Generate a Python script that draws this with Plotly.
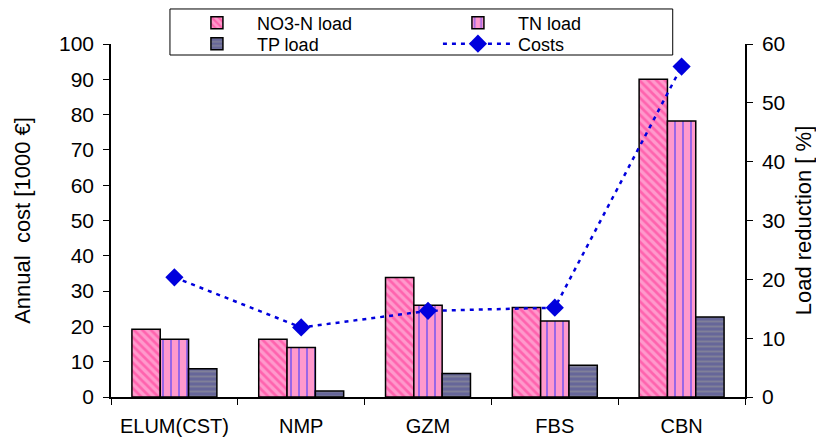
# load reduction bars and annual cost line, two y axes

import plotly.graph_objects as go

categories = ["ELUM(CST)", "NMP", "GZM", "FBS", "CBN"]

# load reduction [%]
no3_load = [11.5, 9.8, 20.3, 15.2, 54.0]
tn_load = [9.8, 8.4, 15.6, 12.9, 46.9]
tp_load = [4.8, 1.0, 4.0, 5.4, 13.6]

# annual cost [1000 EUR]
costs = [33.9, 19.7, 24.4, 25.3, 93.6]

left_ticks = list(range(0, 101, 10))
right_ticks = list(range(0, 61, 10))

font_name = "Liberation Sans, Arial, sans-serif"

fig = go.Figure()

fig.add_trace(go.Bar(
    x=categories, y=no3_load, name="NO3-N load", yaxis="y", legend="legend",
    marker=dict(color="#FF99CC", line=dict(color="black", width=1.5),
                pattern=dict(shape="\\", fgcolor="#FF2D8F", bgcolor="#FF99CC",
                             size=6, solidity=0.45)),
))
fig.add_trace(go.Bar(
    x=categories, y=tn_load, name="TN load", yaxis="y", legend="legend",
    marker=dict(color="#FF99CC", line=dict(color="black", width=1.5),
                pattern=dict(shape="|", fgcolor="#3333FF", bgcolor="#FF99CC",
                             size=8, solidity=0.25)),
))
fig.add_trace(go.Bar(
    x=categories, y=tp_load, name="TP load", yaxis="y", legend="legend2",
    marker=dict(color="#666699", line=dict(color="black", width=1.5),
                pattern=dict(shape="-", fgcolor="#999999", bgcolor="#666699",
                             size=5, solidity=0.4)),
))
fig.add_trace(go.Scatter(
    x=categories, y=costs, name="Costs", yaxis="y2", legend="legend2",
    mode="lines+markers",
    line=dict(color="#0000DD", width=2.5, dash="4px,5px"),
    marker=dict(symbol="diamond", size=14, color="#0000DD"),
))

legend_style = dict(
    orientation="h", xanchor="left", yanchor="middle", x=0.104,
    entrywidth=176, entrywidthmode="pixels",
    bgcolor="rgba(0,0,0,0)", borderwidth=0,
    font=dict(size=18), itemwidth=70,
)

# the page body adds 8px on each side, so margins are shifted by that
fig.update_layout(
    width=824, height=439,
    margin=dict(l=103, r=87, t=36, b=50, autoexpand=False),
    paper_bgcolor="white", plot_bgcolor="white",
    font=dict(family=font_name, size=20, color="black"),
    barmode="group", bargap=0.33, bargroupgap=0,
    showlegend=True,
    legend=dict(legend_style, y=1.0595),
    legend2=dict(legend_style, y=1.0),
    # legend frame
    shapes=[dict(type="rect", xref="paper", yref="paper",
                 x0=0.093, x1=0.886, y0=0.9688, y1=1.0992,
                 fillcolor="white", line=dict(color="black", width=1),
                 layer="above")],
    xaxis=dict(
        showline=True, linecolor="black", linewidth=1.5,
        ticks="outside", ticklen=6, tickcolor="black", tickson="boundaries",
        showgrid=False, tickfont=dict(size=20), ticklabelstandoff=10,
    ),
    yaxis=dict(
        side="right", range=[0, 60], tickvals=right_ticks,
        showline=True, linecolor="black", linewidth=1.5,
        ticks="outside", ticklen=6, tickcolor="black", ticklabelstandoff=5,
        showgrid=False, zeroline=False, tickfont=dict(size=21),
        title=dict(text="Load reduction [ %]", font=dict(size=22), standoff=11),
    ),
    yaxis2=dict(
        overlaying="y", side="left", range=[0, 100], tickvals=left_ticks,
        showline=True, linecolor="black", linewidth=1.5,
        ticks="outside", ticklen=6, tickcolor="black", ticklabelstandoff=5,
        showgrid=False, zeroline=False, tickfont=dict(size=21),
        title=dict(text="Annual  cost [1000 €]", font=dict(size=22), standoff=22),
    ),
)

fig.write_html("out.html")
